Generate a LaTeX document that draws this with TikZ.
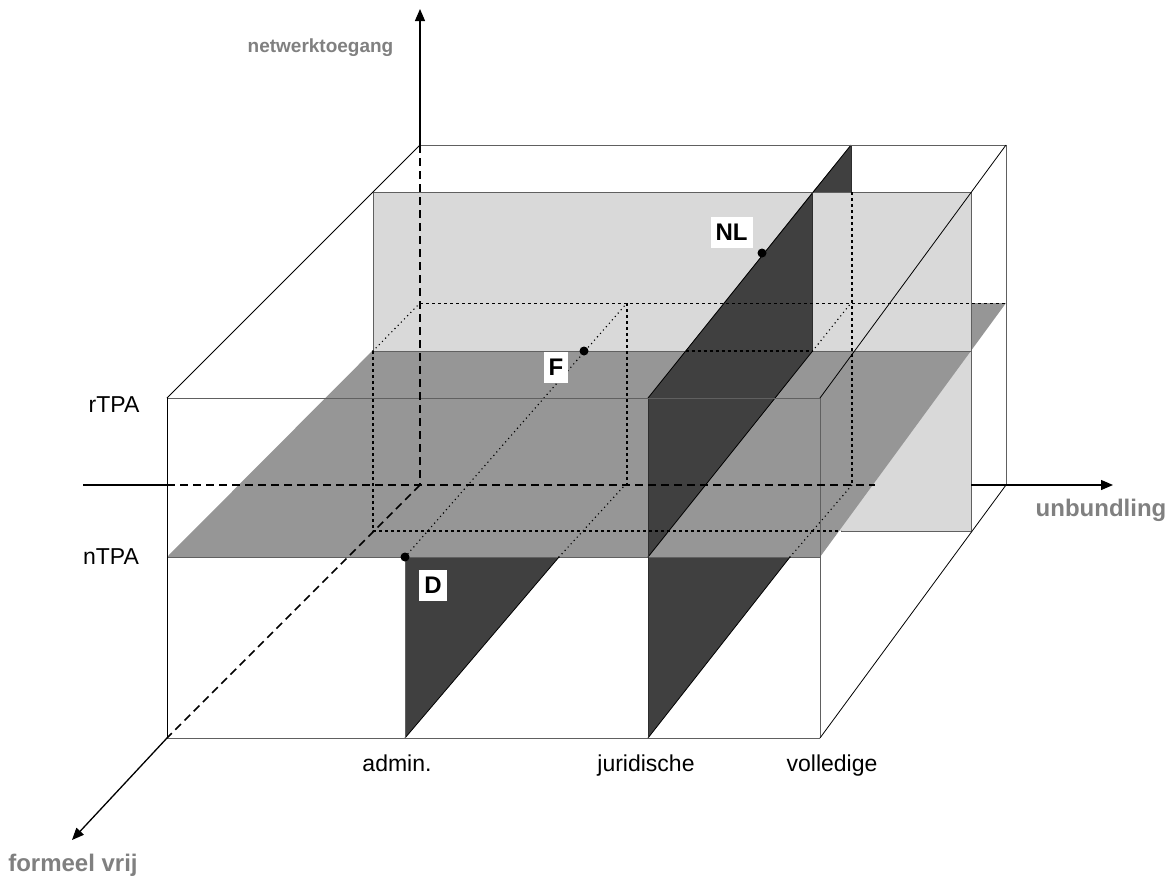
\documentclass[tikz,border=0pt]{standalone}
\usepackage{fontspec}
\setmainfont{Liberation Sans}
\usetikzlibrary{arrows.meta}
\definecolor{panelgray}{HTML}{D9D9D9}
\definecolor{planegray}{HTML}{969696}
\definecolor{darkplane}{HTML}{404040}
\definecolor{labelgray}{HTML}{808080}
\definecolor{edgegray}{HTML}{606060}
\tikzset{
  edge/.style={draw=edgegray, line width=0.9pt},
  blackedge/.style={draw=black, line width=0.8pt},
  axisline/.style={draw=black, line width=1.3pt},
  axisdash/.style={draw=black, line width=1.7pt, dash pattern=on 8pt off 5pt},
  hidden/.style={draw=black, line width=1.6pt, dash pattern=on 3pt off 3pt},
  hiddenthin/.style={draw=black, line width=1pt, dash pattern=on 3pt off 3pt},
  dotline/.style={draw=black, line width=1.6pt, dash pattern=on 0pt off 4.5pt, line cap=round},
  axishead/.style={-{Triangle[length=12pt,width=10pt]}},
  lbl/.style={font=\fontsize{23}{27}\selectfont, text=black, inner sep=0pt},
  axislbl/.style={font=\fontsize{24}{28}\selectfont\bfseries, text=labelgray, inner sep=0pt},
  tag/.style={fill=white, font=\fontsize{24}{28}\selectfont\bfseries, inner xsep=5pt, inner ysep=7pt},
  pt/.style={circle, fill=black, inner sep=0pt, minimum size=9pt},
}
\begin{document}
\begin{tikzpicture}[x=1pt,y=-1pt]
\useasboundingbox (0,0) rectangle (1176,878);
\fill[white] (0,0) rectangle (1176,878);

% key points of the outer box
\coordinate (F1) at (167,398);
\coordinate (F2) at (820,398);
\coordinate (F3) at (820,738);
\coordinate (F4) at (167,738);
\coordinate (B1) at (420,145);
\coordinate (B2) at (1006,145);
\coordinate (B3) at (1006,485);
\coordinate (B4) at (420,485);

% light grey panel (full), then horizontal plane, then upper panel part
\fill[panelgray] (373,192) rectangle (971,531);
\fill[planegray] (167,557) -- (820,557) -- (1006,303) -- (420,303) -- cycle;
\fill[panelgray] (373,192) rectangle (971,351);

% dark vertical plane (juridische, upper)
\fill[darkplane] (812.6,192) -- (851,145) -- (851,192) -- cycle;
\fill[darkplane] (648,557) -- (648,398) -- (812.6,192) -- (812.6,351) -- cycle;

% dark lower triangles
\fill[darkplane] (405,557) -- (559,557) -- (405,738) -- cycle;
\fill[darkplane] (648,557) -- (790,557) -- (648,738) -- cycle;

% panel edges
\draw[edge] (373,351) -- (373,192) -- (971,192) -- (971,531) -- (841,531);
\draw[edge] (373,351) -- (685.5,351);
\draw[edge] (812.6,351) -- (971,351);
\draw[edge] (167,557) -- (820,557);

% edges of dark planes
\draw[blackedge] (648,398) -- (851,145);
\draw[blackedge] (648,557) -- (812.6,351);
\draw[blackedge, draw=darkplane!70!black] (812.6,192) -- (812.6,351);
\draw[blackedge, draw=darkplane!70!black] (851,145) -- (851,192);
\draw[blackedge] (405,738) -- (559,557);
\draw[blackedge] (648,738) -- (790,557);
\draw[edge] (405,557) -- (405,738);
\draw[blackedge, draw=darkplane!70!black] (648,398) -- (648,738);

% hidden lines
\draw[hiddenthin] (420,303) -- (1006,303);
\draw[hidden] (373,351) -- (373,531) -- (841,531);
\draw[hidden] (627,303) -- (627,485);
\draw[hidden] (852,192) -- (852,485);
\draw[hidden] (685.5,351) -- (812.6,351);
\draw[dotline] (373,351) -- (420,303);
\draw[dotline] (812.6,351) -- (851,303);
\draw[dotline] (405,557) -- (627,303);
\draw[dotline] (559,557) -- (625,485);
\draw[dotline] (790,557) -- (852,485);

% outer box
\draw[edge] (F1) -- (F2) -- (F3);
\draw[edge] (F4) -- (F3);
\draw[blackedge] (F1) -- (F4);
\draw[blackedge] (F1) -- (B1);
\draw[edge] (B1) -- (B2) -- (B3);
\draw[blackedge] (F2) -- (B2);
\draw[blackedge] (F3) -- (B3);

% axes
\coordinate (vtip) at (420,9);
\coordinate (ustart) at (83,485);
\coordinate (uhid) at (875,485);
\coordinate (ushow) at (971,485);
\coordinate (utip) at (1113,485);
\coordinate (wtip) at (72,840);
\coordinate (uF) at (167,485);
\draw[axisline, axishead] (B1) -- (vtip);
\draw[axisdash] (B1) -- (B4);
\draw[axisline] (ustart) -- (uF);
\draw[axisdash] (uF) -- (uhid);
\draw[axisline, axishead] (ushow) -- (utip);
\draw[axisdash] (B4) -- (F4);
\draw[axisline, axishead] (F4) -- (wtip);

% points and tags
\node[pt] (NLp) at (762,253) {};
\node[pt] (Fp) at (584,351) {};
\node[pt] (Dp) at (405,557) {};
\node[tag] (NL) at (731.5,232.5) {NL};
\node[tag] (Ft) at (556,367.5) {F};
\node[tag] (Dt) at (433,585.5) {D};

% labels
\node[axislbl, font=\fontsize{19}{23}\selectfont\bfseries, anchor=base] (lv) at (320.5,52) {netwerktoegang};
\node[axislbl, anchor=base] (lu) at (1101,516) {unbundling};
\node[axislbl, anchor=base] (lw) at (73,871) {formeel vrij};
\node[lbl, anchor=base] (lr) at (114,412) {rTPA};
\node[lbl, anchor=base] (ln) at (111,564) {nTPA};
\node[lbl, anchor=base] (la) at (397,771) {admin.};
\node[lbl, anchor=base] (lj) at (646,771) {juridische};
\node[lbl, anchor=base] (lvo) at (832,771) {volledige};
\end{tikzpicture}
\end{document}
